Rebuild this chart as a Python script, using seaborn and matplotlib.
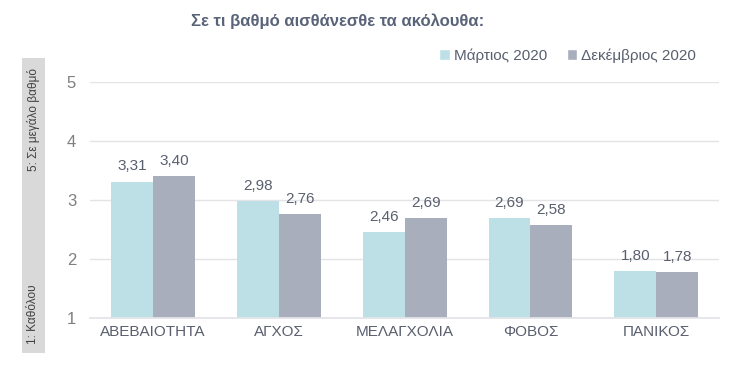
import pandas as pd
import matplotlib.pyplot as plt
import seaborn as sns
from matplotlib.patches import Rectangle

# Chart data
categories = ["ΑΒΕΒΑΙΟΤΗΤΑ", "ΑΓΧΟΣ", "ΜΕΛΑΓΧΟΛΙΑ", "ΦΟΒΟΣ", "ΠΑΝΙΚΟΣ"]
series_names = ["Μάρτιος 2020", "Δεκέμβριος 2020"]
march_2020 = [3.31, 2.98, 2.46, 2.69, 1.80]
december_2020 = [3.40, 2.76, 2.69, 2.58, 1.78]
y_ticks = [1, 2, 3, 4, 5]

colors = ["#BDE0E7", "#A9AEBD"]
text_color = "#595F6E"

sns.set_theme(style="white")
plt.rcParams["font.family"] = ["Liberation Sans", "DejaVu Sans"]

df = pd.DataFrame({
    "category": categories * 2,
    "series": [series_names[0]] * len(categories) + [series_names[1]] * len(categories),
    "value": march_2020 + december_2020,
})

fig = plt.figure(figsize=(7.5, 3.87), dpi=100)
ax = fig.add_axes([0.12, 0.178, 0.839, 0.61])

sns.barplot(data=df, x="category", y="value", hue="series", order=categories,
            hue_order=series_names, palette=colors, width=0.667, saturation=1,
            ax=ax, errorbar=None)

# bars start from 1, not 0
for patch in ax.patches:
    h = patch.get_height()
    if h > 0:
        patch.set_y(1)
        patch.set_height(h - 1)
        patch.set_edgecolor("none")

for container, vals in zip(ax.containers, [march_2020, december_2020]):
    labels = [f"{v:.2f}".replace(".", ",") for v in vals]
    ax.bar_label(container, labels=labels, padding=6, fontsize=11, color=text_color)

ax.set_ylim(1, 5)
ax.set_xlim(-0.5, 4.5)
ax.set_yticks(y_ticks)
ax.set_yticklabels([str(t) for t in y_ticks])
ax.grid(axis="y", color="#E4E4E8", linewidth=1)
ax.set_axisbelow(True)
for side in ["top", "right", "left"]:
    ax.spines[side].set_visible(False)
ax.spines["bottom"].set_color("#E4E4E8")
ax.tick_params(axis="y", colors="#7F7F7F", labelsize=12, length=0, pad=10)
ax.tick_params(axis="x", colors=text_color, labelsize=11, length=0, pad=5)
ax.set_xlabel("")
ax.set_ylabel("")

leg = ax.legend(loc="upper right", bbox_to_anchor=(0.985, 1.2), ncol=2, frameon=False,
                fontsize=11, handlelength=0.7, handleheight=0.7, handletextpad=0.25,
                columnspacing=1.3)
for t in leg.get_texts():
    t.set_color(text_color)

fig.text(0.45, 0.945, "Σε τι βαθμό αισθάνεσθε τα ακόλουθα:", ha="center", va="center",
         fontsize=12, fontweight="bold", color="#5A6478")

# side scale box
fig.patches.append(Rectangle((0.029, 0.088), 0.031, 0.762, transform=fig.transFigure,
                             facecolor="#D9D9D9", edgecolor="none"))
fig.text(0.0445, 0.825, "5: Σε μεγάλο βαθμό", rotation=90, ha="center", va="top",
         fontsize=8.5, color="#404040")
fig.text(0.0445, 0.11, "1: Καθόλου", rotation=90, ha="center", va="bottom",
         fontsize=8.5, color="#404040")

fig.savefig("out.png", dpi=100)
